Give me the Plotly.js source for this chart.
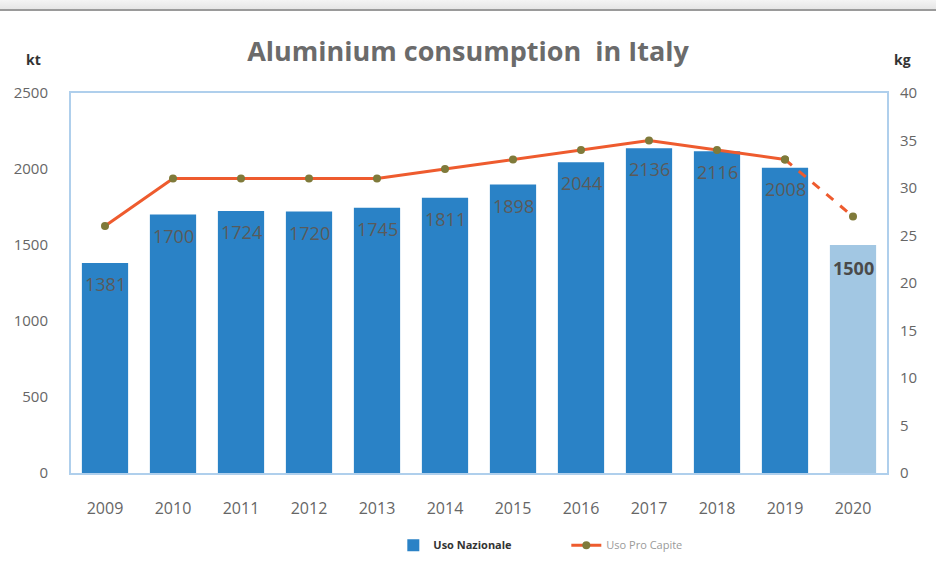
<!DOCTYPE html>
<html><head><meta charset="utf-8">
<script src="https://cdn.plot.ly/plotly-3.0.1.min.js"></script>
<style>
html,body{margin:0;padding:0;background:#fff;}
#wrap{position:relative;width:936px;height:577px;overflow:hidden;}
#topbar{position:absolute;left:0;top:0;width:936px;height:9px;background:linear-gradient(#f4f4f4,#e6e6e6);border-bottom:2px solid #9a9a9a;z-index:5;}
#chart{width:936px;height:577px;}
</style></head>
<body><div id="wrap"><div id="topbar"></div><div id="chart"></div></div>
<script>
const years = ['2009','2010','2011','2012','2013','2014','2015','2016','2017','2018','2019','2020'];
const usoNazionale = [1381,1700,1724,1720,1745,1811,1898,2044,2136,2116,2008,1500];
const usoProCapite = [26,31,31,31,31,32,33,34,35,34,33,27];
const barColors = ['#2A82C6','#2A82C6','#2A82C6','#2A82C6','#2A82C6','#2A82C6','#2A82C6','#2A82C6','#2A82C6','#2A82C6','#2A82C6','#A2C7E3'];

const solidYears = years.slice(0,11), solidVals = usoProCapite.slice(0,11);
const dashYears = years.slice(10), dashVals = usoProCapite.slice(10);

const fontFam = 'Open Sans, Liberation Sans, sans-serif';
const traces = [
 {type:'bar', name:'<b>Uso Nazionale</b>', x:years, y:usoNazionale, marker:{color:barColors}, hoverinfo:'x+y'},
 {type:'scatter', mode:'lines+markers', name:'<span style="color:#9a9a9a">Uso Pro Capite</span>', x:solidYears, y:solidVals, yaxis:'y2',
  line:{color:'#EE5B2E', width:3}, marker:{color:'#7F7A3A', size:8}},
 {type:'scatter', mode:'lines+markers', name:'Uso Pro Capite', x:dashYears, y:dashVals, yaxis:'y2', showlegend:false,
  line:{color:'#EE5B2E', width:3, dash:'dash'}, marker:{color:'#7F7A3A', size:8}}
];
const barLabels = years.map((yr,i) => ({
  text: i === 11 ? '<b>'+usoNazionale[i]+'</b>' : String(usoNazionale[i]),
  x: i, y: usoNazionale[i], xref:'x', yref:'y', yanchor:'top', yshift: i === 11 ? -9 : -7, showarrow:false,
  font:{size:18, color: i === 11 ? '#4a4a4a' : '#5a5a5a', family:fontFam}
}));
const layout = {
 width:936, height:577, paper_bgcolor:'#fff', plot_bgcolor:'#fff',
 margin:{l:71, r:49, t:93, b:104},
 font:{family:fontFam, color:'#6a6a6a'},
 title:{text:'<b>Aluminium consumption  in Italy</b>', x:0.5, xanchor:'center', y:0.91, yanchor:'middle',
  font:{size:27, color:'#6b6b6b', family:fontFam}},
 bargap:0.32, showlegend:true,
 legend:{orientation:'h', x:0.395, xanchor:'left', y:-0.19, yanchor:'middle', font:{size:11, color:'#333'},
  entrywidth:128, itemwidth:30},
 xaxis:{type:'category', range:[-0.5,11.5], autorange:false, showline:true, mirror:true, linecolor:'#AFCFEC', linewidth:2, ticks:'',
  tickfont:{size:16, color:'#666'}, ticklabelstandoff:20},
 yaxis:{range:[0,2500], dtick:500, showgrid:false, zeroline:false, showline:true, mirror:true, linecolor:'#AFCFEC', linewidth:2,
  tickfont:{size:15, color:'#666'}, ticks:'', ticklabelstandoff:18},
 yaxis2:{range:[0,40], dtick:5, overlaying:'y', side:'right', showgrid:false, zeroline:false, showline:false,
  tickfont:{size:15, color:'#666'}, ticks:'', ticklabelstandoff:12},
 annotations:[
  {text:'<b>kt</b>', xref:'paper', yref:'paper', x:-0.058, y:1.118, showarrow:false, font:{size:14, color:'#333'}},
  {text:'<b>kg</b>', xref:'paper', yref:'paper', x:1.032, y:1.118, showarrow:false, font:{size:14, color:'#333'}}
 ].concat(barLabels)
};
Plotly.newPlot('chart', traces, layout, {displayModeBar:false});
</script></body></html>
